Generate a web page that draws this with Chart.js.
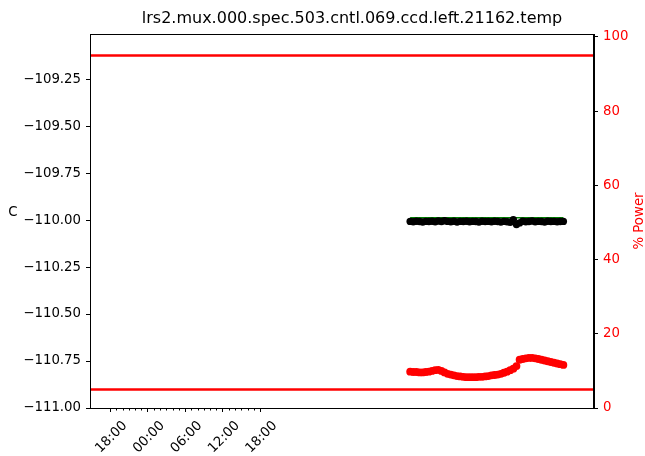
<!DOCTYPE html>
<html>
<head>
<meta charset="utf-8">
<script src="https://cdn.jsdelivr.net/npm/chart.js@4/dist/chart.umd.min.js"></script>
<style>
  html, body { margin: 0; padding: 0; background: #fff; }
  #wrap { width: 645px; height: 456px; position: relative; }
</style>
</head>
<body>
<div id="wrap"><canvas id="chart"></canvas></div>
<script>
"use strict";

/* ── data ───────────────────────────────────────────────────────────────── */

var chartTitle = "lrs2.mux.000.spec.503.cntl.069.ccd.left.21162.temp";

// hours since the first labelled 18:00
var times = [
    48, 48.5, 49, 49.5, 50, 50.5, 51, 51.5, 52, 52.5,
    53, 53.5, 54, 54.5, 55, 55.5, 56, 56.5, 57, 57.5,
    58, 58.5, 59, 59.5, 60, 60.5, 61, 61.5, 62, 62.5,
    63, 63.5, 64, 64.5, 65, 65.5, 66, 66.5, 67, 67.5,
    68, 68.5, 69, 69.5, 70, 70.5, 71, 71.5, 72, 72.5
];

// CCD temperature (C, left axis)
var tempValues = [
    -110.007, -110.009, -110.006, -110.008, -110.010, -110.007, -110.008, -110.006, -110.009, -110.005,
    -110.008, -110.004, -110.007, -110.009, -110.006, -110.010, -110.007, -110.008, -110.006, -110.009,
    -110.007, -110.008, -110.010, -110.006, -110.008, -110.007, -110.009, -110.006, -110.008, -110.010,
    -110.007, -110.009, -110.012, -109.998, -110.024, -110.015, -110.006, -110.009, -110.008, -110.005,
    -110.009, -110.007, -110.008, -110.010, -110.006, -110.008, -110.007, -110.009, -110.008, -110.007
];

// heater power (%, right axis)
var powerValues = [
    9.8, 9.7, 9.7, 9.6, 9.6, 9.7, 9.8, 10.0, 10.2, 10.3,
    10.0, 9.6, 9.2, 9.0, 8.8, 8.6, 8.5, 8.4, 8.3, 8.3,
    8.3, 8.3, 8.4, 8.4, 8.5, 8.6, 8.8, 8.9, 9.0, 9.2,
    9.5, 9.8, 10.2, 10.6, 11.3, 13.0, 13.2, 13.4, 13.5, 13.5,
    13.4, 13.2, 13.0, 12.8, 12.6, 12.4, 12.2, 12.0, 11.8, 11.6
];

var setpoint    = -109.988;
var powerLimits = [5, 95];

var xMin = -3.2, xMax = 77.4;
var xTickHours  = [0, 6, 12, 18, 24];
var xTickLabels = ["18:00", "00:00", "06:00", "12:00", "18:00"];
var xMinorHours = [1, 2, 3, 4, 5, 7, 8, 9, 10, 11, 13, 14, 15, 16, 17, 19, 20, 21, 22, 23];

var tempMin = -111.0, tempMax = -109.01;
var tempTicks = [-111.00, -110.75, -110.50, -110.25, -110.00, -109.75, -109.50, -109.25];
var powerMin = 0, powerMax = 100.8;
var powerTicks = [0, 20, 40, 60, 80, 100];

var FONT = "'DejaVu Sans', sans-serif";
var TICK_SIZE = 13.3;
var RED = "#ff0000";

function minus(s) { return String(s).replace("-", "\u2212"); }

/* ── datasets ───────────────────────────────────────────────────────────── */

var tempPoints  = times.map(function(t, i) { return { x: t, y: tempValues[i] }; });
var powerPoints = times.map(function(t, i) { return { x: t, y: powerValues[i] }; });
var setPoints   = [{ x: times[0], y: setpoint }, { x: times[times.length - 1], y: setpoint }];

var datasets = [
    {
        label: "temp", data: tempPoints, yAxisID: "y", order: 1,
        showLine: false, pointRadius: 3.7, pointBorderWidth: 0,
        pointBackgroundColor: "#000", borderColor: "#000"
    },
    {
        label: "power", data: powerPoints, yAxisID: "y2", order: 2,
        showLine: false, pointRadius: 3.9, pointBorderWidth: 0,
        pointBackgroundColor: RED, borderColor: RED
    },
    {
        label: "setpoint", data: setPoints, yAxisID: "y", order: 3,
        showLine: true, pointRadius: 0, borderWidth: 1.5, borderColor: "#008000"
    }
];

powerLimits.forEach(function(lim) {
    datasets.push({
        label: "limit " + lim,
        data: [{ x: xMin, y: lim }, { x: xMax, y: lim }],
        yAxisID: "y2", order: 4,
        showLine: true, pointRadius: 0, borderWidth: 2.5, borderColor: RED
    });
});

/* ── extras: frame, minor ticks, title, axis labels ─────────────────────── */

var extras = {
    id: "extras",
    afterDraw: function(chart) {
        var ctx = chart.ctx, a = chart.chartArea, xs = chart.scales.x;
        ctx.save();
        ctx.strokeStyle = "#000";
        ctx.lineWidth = 1;
        ctx.strokeRect(a.left + 0.5, a.top + 0.5, a.right - a.left - 1, a.bottom - a.top);

        // hourly minor ticks
        ctx.beginPath();
        xMinorHours.forEach(function(h) {
            var px = Math.round(xs.getPixelForValue(h)) + 0.5;
            ctx.moveTo(px, a.bottom);
            ctx.lineTo(px, a.bottom + 2.5);
        });
        ctx.stroke();

        // title sits over the axes
        ctx.textAlign = "center";
        ctx.textBaseline = "middle";
        ctx.fillStyle = "#000";
        ctx.font = "16px " + FONT;
        ctx.fillText(chartTitle, (a.left + a.right) / 2 + 10, 19);

        ctx.font = TICK_SIZE + "px " + FONT;
        ctx.fillText("C", 13, 213);

        ctx.translate(640, 221);
        ctx.rotate(-Math.PI / 2);
        ctx.fillStyle = RED;
        ctx.fillText("% Power", 0, 0);
        ctx.restore();
    }
};

/* ── chart ──────────────────────────────────────────────────────────────── */

new Chart(document.getElementById("chart"), {
    type: "scatter",
    data: { datasets: datasets },
    plugins: [extras],
    options: {
        responsive: true,
        maintainAspectRatio: false,
        animation: false,
        layout: { padding: { top: 34 } },
        plugins: {
            legend: { display: false },
            tooltip: { enabled: false },
            title: { display: false }
        },
        scales: {
            x: {
                type: "linear", min: xMin, max: xMax,
                afterBuildTicks: function(s) { s.ticks = xTickHours.map(function(v) { return { value: v }; }); },
                afterFit: function(s) { s.height = 48; },
                grid: { drawOnChartArea: false, drawTicks: true, tickLength: 4, tickColor: "#000" },
                border: { display: true, color: "#000" },
                ticks: {
                    autoSkip: false, maxRotation: 45, minRotation: 45, padding: 6, labelOffset: 15,
                    color: "#000", font: { family: FONT, size: TICK_SIZE },
                    callback: function(v) { return xTickLabels[xTickHours.indexOf(v)]; }
                }
            },
            y: {
                type: "linear", position: "left", min: tempMin, max: tempMax,
                afterBuildTicks: function(s) { s.ticks = tempTicks.map(function(v) { return { value: v }; }); },
                afterFit: function(s) { s.width = 90; },
                grid: { drawOnChartArea: false, drawTicks: true, tickLength: 4, tickColor: "#000" },
                border: { display: true, color: "#000" },
                ticks: {
                    padding: 5, color: "#000", font: { family: FONT, size: TICK_SIZE },
                    callback: function(v) { return minus(v.toFixed(2)); }
                }
            },
            y2: {
                type: "linear", position: "right", min: powerMin, max: powerMax,
                afterBuildTicks: function(s) { s.ticks = powerTicks.map(function(v) { return { value: v }; }); },
                afterFit: function(s) { s.width = 51; },
                grid: { drawOnChartArea: false, drawTicks: true, tickLength: 4, tickColor: "#000" },
                border: { display: true, color: "#000" },
                ticks: {
                    padding: 5, color: RED, font: { family: FONT, size: TICK_SIZE },
                    callback: function(v) { return String(v); }
                }
            }
        }
    }
});
</script>
</body>
</html>
